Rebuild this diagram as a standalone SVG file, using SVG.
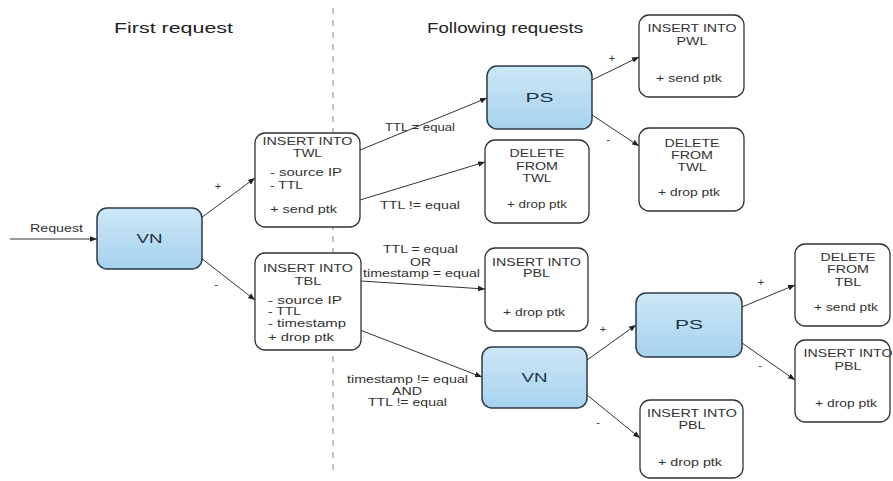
<svg xmlns="http://www.w3.org/2000/svg" width="893" height="481" viewBox="0 0 893 481">
<defs>
<linearGradient id="blue" x1="0" y1="0" x2="0" y2="1">
<stop offset="0" stop-color="#cde7f7"/>
<stop offset="1" stop-color="#a6d2ee"/>
</linearGradient>
<marker id="arr" viewBox="0 0 10 10" refX="10" refY="5" markerWidth="7" markerHeight="7" orient="auto" markerUnits="userSpaceOnUse">
<path d="M0,1 L10,5 L0,9 z" fill="#222"/>
</marker>
</defs>
<style>
.box{fill:#fff;stroke:#333;stroke-width:1.3}
.bbox{fill:url(#blue);stroke:#2b3a48;stroke-width:1.5}
text{font-family:"Liberation Sans",Arial,sans-serif;fill:#333;font-size:11px}
.c{text-anchor:middle}
.big{font-size:13px;fill:#1e3346}
.title{font-size:15px;fill:#222}
.con line{stroke:#333;stroke-width:1;marker-end:url(#arr)}
.dash{stroke:#888;stroke-width:1;stroke-dasharray:6,6}
</style>
<rect width="893" height="481" fill="#fff"/>
<line class="dash" x1="333" y1="8" x2="333" y2="476"/>
<text class="title" x="114" y="33" textLength="119" lengthAdjust="spacingAndGlyphs">First request</text>
<text class="title" x="427" y="33" textLength="156" lengthAdjust="spacingAndGlyphs">Following requests</text>

<g id="connectors" class="con">
<line x1="10" y1="239" x2="97" y2="239"/>
<line x1="201" y1="218" x2="255" y2="178"/>
<line x1="201" y1="258" x2="255" y2="300"/>
<line x1="360" y1="150" x2="487" y2="98"/>
<line x1="360" y1="200" x2="485" y2="162"/>
<line x1="592" y1="80" x2="639" y2="57"/>
<line x1="592" y1="115" x2="639" y2="146"/>
<line x1="361" y1="281" x2="485" y2="289"/>
<line x1="360" y1="330" x2="482" y2="377"/>
<line x1="587" y1="360" x2="636" y2="325"/>
<line x1="587" y1="395" x2="640" y2="438"/>
<line x1="742" y1="307" x2="795" y2="285"/>
<line x1="742" y1="343" x2="795" y2="380"/>
</g>
<g id="labels">
<text x="30" y="232" textLength="53" lengthAdjust="spacingAndGlyphs">Request</text>
<text class="c" x="218" y="190">+</text>
<text class="c" x="216" y="288">-</text>
<text x="385" y="131" textLength="70" lengthAdjust="spacingAndGlyphs">TTL = equal</text>
<text x="380" y="209" textLength="80" lengthAdjust="spacingAndGlyphs">TTL != equal</text>
<text class="c" x="612" y="62">+</text>
<text class="c" x="608" y="143">-</text>
<text x="383" y="253" textLength="75" lengthAdjust="spacingAndGlyphs">TTL = equal</text>
<text x="410" y="266" textLength="21" lengthAdjust="spacingAndGlyphs">OR</text>
<text x="363" y="277" textLength="117" lengthAdjust="spacingAndGlyphs">timestamp = equal</text>
<text x="347" y="383" textLength="121" lengthAdjust="spacingAndGlyphs">timestamp != equal</text>
<text x="392" y="395" textLength="30" lengthAdjust="spacingAndGlyphs">AND</text>
<text x="368" y="406" textLength="79" lengthAdjust="spacingAndGlyphs">TTL != equal</text>
<text class="c" x="603" y="333">+</text>
<text class="c" x="598" y="426">-</text>
<text class="c" x="761" y="286">+</text>
<text class="c" x="760" y="369">-</text>
</g>

<g id="vn1">
<rect class="bbox" x="97" y="208" width="105" height="61" rx="10"/>
<text class="c big" x="149.5" y="243" textLength="26" lengthAdjust="spacingAndGlyphs">VN</text>
</g>
<g id="twl">
<rect class="box" x="255" y="133" width="105" height="94" rx="10"/>
<text class="c" x="307.5" y="145" textLength="90" lengthAdjust="spacingAndGlyphs">INSERT INTO</text>
<text class="c" x="307.5" y="157" textLength="29" lengthAdjust="spacingAndGlyphs">TWL</text>
<text x="270" y="176" textLength="72" lengthAdjust="spacingAndGlyphs">- source IP</text>
<text x="270" y="189" textLength="33" lengthAdjust="spacingAndGlyphs">- TTL</text>
<text x="270" y="213" textLength="67" lengthAdjust="spacingAndGlyphs">+ send ptk</text>
</g>
<g id="tbl">
<rect class="box" x="255" y="253" width="106" height="97" rx="10"/>
<text class="c" x="308" y="272" textLength="90" lengthAdjust="spacingAndGlyphs">INSERT INTO</text>
<text class="c" x="308" y="285" textLength="27" lengthAdjust="spacingAndGlyphs">TBL</text>
<text x="268" y="304" textLength="74" lengthAdjust="spacingAndGlyphs">- source IP</text>
<text x="268" y="315" textLength="33" lengthAdjust="spacingAndGlyphs">- TTL</text>
<text x="268" y="327" textLength="78" lengthAdjust="spacingAndGlyphs">- timestamp</text>
<text x="268" y="341" textLength="66" lengthAdjust="spacingAndGlyphs">+ drop ptk</text>
</g>
<g id="ps1">
<rect class="bbox" x="487" y="66" width="105" height="63" rx="10"/>
<text class="c big" x="539.5" y="102" textLength="28" lengthAdjust="spacingAndGlyphs">PS</text>
</g>
<g id="del-twl-1">
<rect class="box" x="485" y="140" width="104" height="83" rx="10"/>
<text class="c" x="537" y="157" textLength="55" lengthAdjust="spacingAndGlyphs">DELETE</text>
<text class="c" x="537" y="170" textLength="42" lengthAdjust="spacingAndGlyphs">FROM</text>
<text class="c" x="537" y="182" textLength="29" lengthAdjust="spacingAndGlyphs">TWL</text>
<text class="c" x="537" y="208" textLength="60" lengthAdjust="spacingAndGlyphs">+ drop ptk</text>
</g>
<g id="ins-pbl-1">
<rect class="box" x="485" y="248" width="103" height="83" rx="10"/>
<text class="c" x="536.5" y="266" textLength="89" lengthAdjust="spacingAndGlyphs">INSERT INTO</text>
<text class="c" x="536.5" y="277" textLength="27" lengthAdjust="spacingAndGlyphs">PBL</text>
<text class="c" x="534" y="316" textLength="62" lengthAdjust="spacingAndGlyphs">+ drop ptk</text>
</g>
<g id="vn2">
<rect class="bbox" x="482" y="347" width="105" height="61" rx="10"/>
<text class="c big" x="534.5" y="382" textLength="26" lengthAdjust="spacingAndGlyphs">VN</text>
</g>
<g id="ins-pwl">
<rect class="box" x="639" y="15" width="105" height="82" rx="10"/>
<text class="c" x="692" y="32" textLength="89" lengthAdjust="spacingAndGlyphs">INSERT INTO</text>
<text class="c" x="692" y="45" textLength="31" lengthAdjust="spacingAndGlyphs">PWL</text>
<text class="c" x="689" y="82" textLength="66" lengthAdjust="spacingAndGlyphs">+ send ptk</text>
</g>
<g id="del-twl-2">
<rect class="box" x="639" y="128" width="105" height="83" rx="10"/>
<text class="c" x="692" y="147" textLength="55" lengthAdjust="spacingAndGlyphs">DELETE</text>
<text class="c" x="692" y="159" textLength="42" lengthAdjust="spacingAndGlyphs">FROM</text>
<text class="c" x="692" y="171" textLength="29" lengthAdjust="spacingAndGlyphs">TWL</text>
<text class="c" x="689" y="196" textLength="62" lengthAdjust="spacingAndGlyphs">+ drop ptk</text>
</g>
<g id="ps2">
<rect class="bbox" x="636" y="293" width="106" height="64" rx="10"/>
<text class="c big" x="689" y="329" textLength="28" lengthAdjust="spacingAndGlyphs">PS</text>
</g>
<g id="del-tbl">
<rect class="box" x="795" y="244" width="95" height="82" rx="10"/>
<text class="c" x="848" y="261" textLength="55" lengthAdjust="spacingAndGlyphs">DELETE</text>
<text class="c" x="848" y="273" textLength="42" lengthAdjust="spacingAndGlyphs">FROM</text>
<text class="c" x="848" y="286" textLength="27" lengthAdjust="spacingAndGlyphs">TBL</text>
<text class="c" x="846" y="311" textLength="64" lengthAdjust="spacingAndGlyphs">+ send ptk</text>
</g>
<g id="ins-pbl-2">
<rect class="box" x="795" y="340" width="95" height="82" rx="10"/>
<text class="c" x="848" y="357" textLength="89" lengthAdjust="spacingAndGlyphs">INSERT INTO</text>
<text class="c" x="848" y="370" textLength="27" lengthAdjust="spacingAndGlyphs">PBL</text>
<text class="c" x="846" y="407" textLength="62" lengthAdjust="spacingAndGlyphs">+ drop ptk</text>
</g>
<g id="ins-pbl-3">
<rect class="box" x="640" y="400" width="103" height="78" rx="10"/>
<text class="c" x="692" y="417" textLength="90" lengthAdjust="spacingAndGlyphs">INSERT INTO</text>
<text class="c" x="692" y="429" textLength="27" lengthAdjust="spacingAndGlyphs">PBL</text>
<text class="c" x="690" y="466" textLength="64" lengthAdjust="spacingAndGlyphs">+ drop ptk</text>
</g>
</svg>
